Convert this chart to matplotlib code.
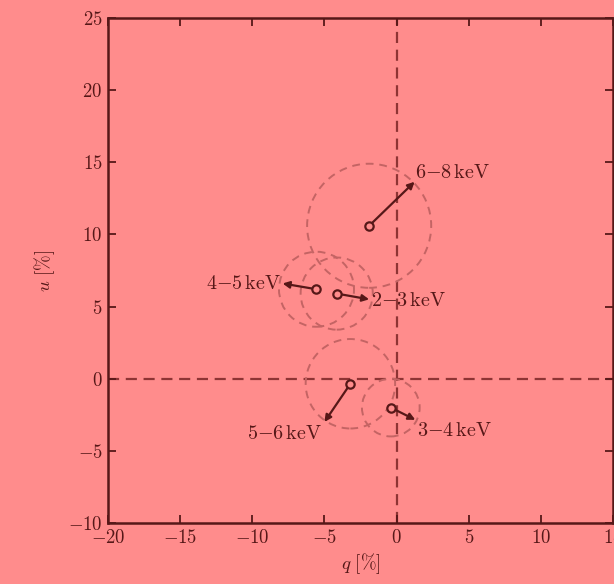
import numpy as np
import matplotlib
matplotlib.use("Agg")
import matplotlib.pyplot as plt
from matplotlib.patches import Circle
from matplotlib.ticker import FuncFormatter

# energy bands: marker position, arrow tip, error circle radius, label position
bands = ["6{-}8", "4{-}5", "2{-}3", "5{-}6", "3{-}4"]
q_pts = [-1.9, -5.55, -4.15, -3.2, -0.4]
u_pts = [10.6, 6.2, 5.9, -0.35, -2.0]
q_tip = [1.25, -7.9, -1.9, -5.0, 1.3]
u_tip = [13.65, 6.6, 5.5, -3.0, -2.85]
radii = [4.3, 2.6, 2.5, 3.1, 2.0]
q_lab = [1.3, -8.0, -1.75, -5.2, 1.4]
u_lab = [14.3, 6.6, 5.4, -3.8, -3.6]
ha_lab = ["left", "right", "left", "right", "left"]

bg = "#ff8c8c"
dark = "#561818"
axline = "#8e3434"
circ = "#c46464"

plt.rcParams["mathtext.fontset"] = "cm"
plt.rcParams["font.family"] = "serif"

fig = plt.figure(figsize=(6.14, 5.84), dpi=100, facecolor=bg)
ax = fig.add_axes([108 / 614, 61 / 584, 505 / 614, 505 / 584], facecolor=bg)

ax.axhline(0, color=axline, lw=1.6, ls=(0, (5, 3)), zorder=1)
ax.axvline(0, color=axline, lw=1.6, ls=(0, (5, 3)), zorder=1)

for i in range(len(bands)):
    c = Circle((q_pts[i], u_pts[i]), radii[i], fill=False, ec=circ,
               lw=1.4, ls=(0, (4, 3)), zorder=2)
    ax.add_patch(c)
    ax.annotate("", xy=(q_tip[i], u_tip[i]), xytext=(q_pts[i], u_pts[i]),
                arrowprops=dict(arrowstyle="-|>", color=dark, lw=1.6,
                                mutation_scale=10, shrinkA=3, shrinkB=0),
                zorder=3)
    ax.plot(q_pts[i], u_pts[i], "o", ms=6, mfc=bg, mec=dark, mew=1.6, zorder=4)
    ax.text(q_lab[i], u_lab[i], r"$%s\,\mathrm{keV}$" % bands[i], ha=ha_lab[i],
            va="center", fontsize=14.5, color=dark, zorder=5)

ax.set_xlim(-20, 15)
ax.set_ylim(-10, 25)
ax.set_xticks(np.arange(-20, 16, 5))
ax.set_yticks(np.arange(-10, 26, 5))
fmt = FuncFormatter(lambda v, p: r"$%d$" % v)
ax.xaxis.set_major_formatter(fmt)
ax.yaxis.set_major_formatter(fmt)
ax.tick_params(direction="in", length=6, width=1.3, colors=dark,
               labelsize=13.5, top=True, right=True, pad=4)
for s in ax.spines.values():
    s.set_color(dark)
    s.set_linewidth(1.8)

ax.set_xlabel(r"$q\ [\%]$", fontsize=13.5, color=dark, labelpad=3)
ax.set_ylabel(r"$u\ [\%]$", fontsize=13.5, color=dark, labelpad=8)

fig.savefig("out.png", dpi=100, facecolor=bg)
